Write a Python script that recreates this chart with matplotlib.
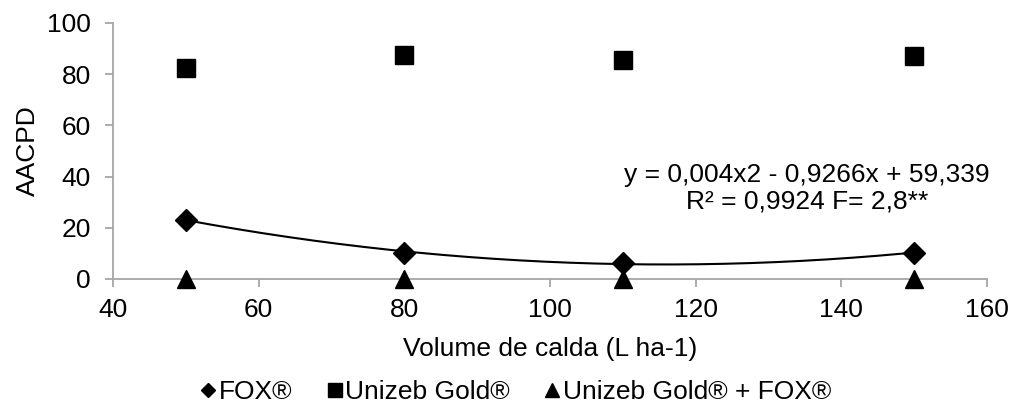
import numpy as np
import matplotlib
matplotlib.use("Agg")
import matplotlib.pyplot as plt
from matplotlib.lines import Line2D

plt.rcParams['font.family'] = ['Liberation Sans', 'DejaVu Sans']

volume = [50, 80, 110, 150]
fox = [23.0, 10.1, 6.2, 10.1]
unizeb = [82.4, 87.6, 85.4, 87.0]
unizeb_fox = [0, 0, 0, 0]
coef = [0.004, -0.9266, 59.339]  # trendline shown on chart
eq_text = "y = 0,004x2 - 0,9266x + 59,339\nR² = 0,9924 F= 2,8**"

FS = 19

fig = plt.figure(figsize=(10.13, 4.04), dpi=100)
ax = fig.add_axes([113/1013, 1-279/404, (987-113)/1013, (279-23)/404])

xs = np.linspace(min(volume), max(volume), 200)
ax.plot(xs, np.polyval(coef, xs), color='black', lw=1.5, zorder=2)
ax.plot(volume, fox, 'D', color='black', ms=11, ls='none', zorder=3, clip_on=False)
ax.plot(volume, unizeb, 's', color='black', ms=13.5, ls='none', zorder=3, clip_on=False)
ax.plot(volume, unizeb_fox, '^', color='black', ms=13.5, ls='none', zorder=3, clip_on=False)

ax.set_xlim(40, 160)
ax.set_ylim(0, 100)
ax.set_xticks(range(40, 161, 20))
ax.set_yticks(range(0, 101, 20))
for s in ['top', 'right']:
    ax.spines[s].set_visible(False)
for s in ['left', 'bottom']:
    ax.spines[s].set_color('#a6a6a6')
    ax.spines[s].set_linewidth(1.3)
ax.tick_params(axis='both', colors='#a6a6a6', length=6, width=1.3, labelsize=FS, labelcolor='black')
ax.tick_params(axis='x', pad=7.5)
ax.tick_params(axis='y', pad=10)

ax.set_xlabel("Volume de calda (L ha-1)", fontsize=FS)
ax.xaxis.set_label_coords(0.5, -0.227)
ax.set_ylabel("AACPD", fontsize=FS, labelpad=5)

ax.text(135.3, 35.5, eq_text, ha='center', va='center', fontsize=FS, linespacing=1.1)

handles = [
    Line2D([], [], marker='D', color='black', ls='none', ms=7),
    Line2D([], [], marker='s', color='black', ls='none', ms=10),
    Line2D([], [], marker='^', color='black', ls='none', ms=10),
]
labels = ["FOX®", "Unizeb Gold®", "Unizeb Gold® + FOX®"]
fig.legend(handles, labels, loc='center', bbox_to_anchor=(0.509, 1-392/404), ncol=3,
           frameon=False, fontsize=FS, handlelength=0.6, handletextpad=0.1, columnspacing=1.3,
           borderpad=0.1)

fig.savefig("out.png", dpi=100)
